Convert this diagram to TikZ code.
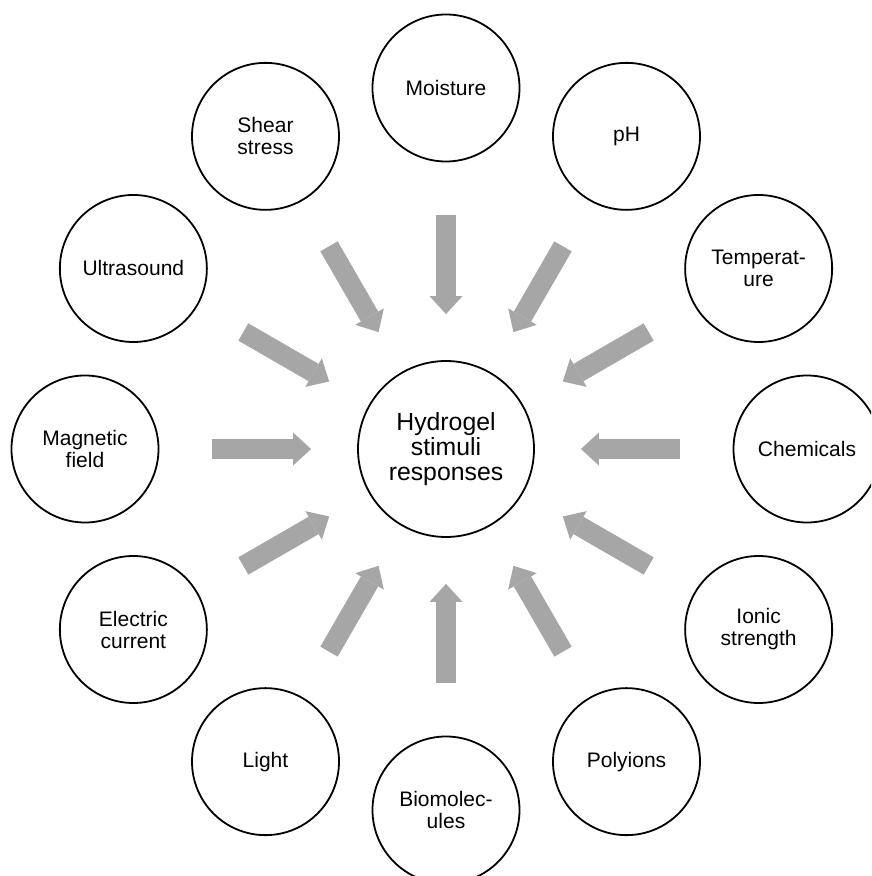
\documentclass[tikz,border=0pt]{standalone}
\usepackage{fontspec}
\setmainfont{Liberation Sans}
\usepackage{tikz}
\usetikzlibrary{arrows.meta}
\definecolor{arrowgray}{RGB}{166,166,166}

\begin{document}
\begin{tikzpicture}[x=0.5pt,y=0.5pt,
            stimulus/.style={circle, draw=black, line width=0.9pt, minimum size=73.5pt, inner sep=0pt, align=center, font=\fontsize{10.5}{11}\selectfont},
            hubcircle/.style={circle, draw=black, line width=0.9pt, minimum size=88pt, inner sep=0pt, align=center, font=\fontsize{12.4}{12.5}\selectfont},
            stimarrow/.style={draw=arrowgray, line width=10pt, line cap=butt, shorten <=26.3pt, shorten >=23pt, -{Triangle[width=16.5pt,length=9pt,line width=0pt]}}]
            \clip (-446,449) rectangle (425,-427);
            \node[hubcircle] (hub) at (0,0) {Hydrogel\\stimuli\\responses};
            \node[stimulus] (moisture) at (90:361) {Moisture};
            \node[stimulus] (ph) at (60:361) {pH};
            \node[stimulus] (temp) at (30:361) {Temperat-\\ure};
            \node[stimulus] (chem) at (0:361) {Chemicals};
            \node[stimulus] (ionic) at (-30:361) {Ionic\\strength};
            \node[stimulus] (polyion) at (-60:361) {Polyions};
            \node[stimulus] (biomol) at (-90:361) {Biomolec-\\ules};
            \node[stimulus] (light) at (-120:361) {Light};
            \node[stimulus] (elec) at (-150:361) {Electric\\current};
            \node[stimulus] (magnet) at (180:361) {Magnetic\\field};
            \node[stimulus] (ultra) at (150:361) {Ultrasound};
            \node[stimulus] (shear) at (120:361) {Shear\\stress};
            \draw[stimarrow] (moisture) -- (hub);
            \draw[stimarrow] (ph) -- (hub);
            \draw[stimarrow] (temp) -- (hub);
            \draw[stimarrow] (chem) -- (hub);
            \draw[stimarrow] (ionic) -- (hub);
            \draw[stimarrow] (polyion) -- (hub);
            \draw[stimarrow] (biomol) -- (hub);
            \draw[stimarrow] (light) -- (hub);
            \draw[stimarrow] (elec) -- (hub);
            \draw[stimarrow] (magnet) -- (hub);
            \draw[stimarrow] (ultra) -- (hub);
            \draw[stimarrow] (shear) -- (hub);
        \end{tikzpicture}
\end{document}
